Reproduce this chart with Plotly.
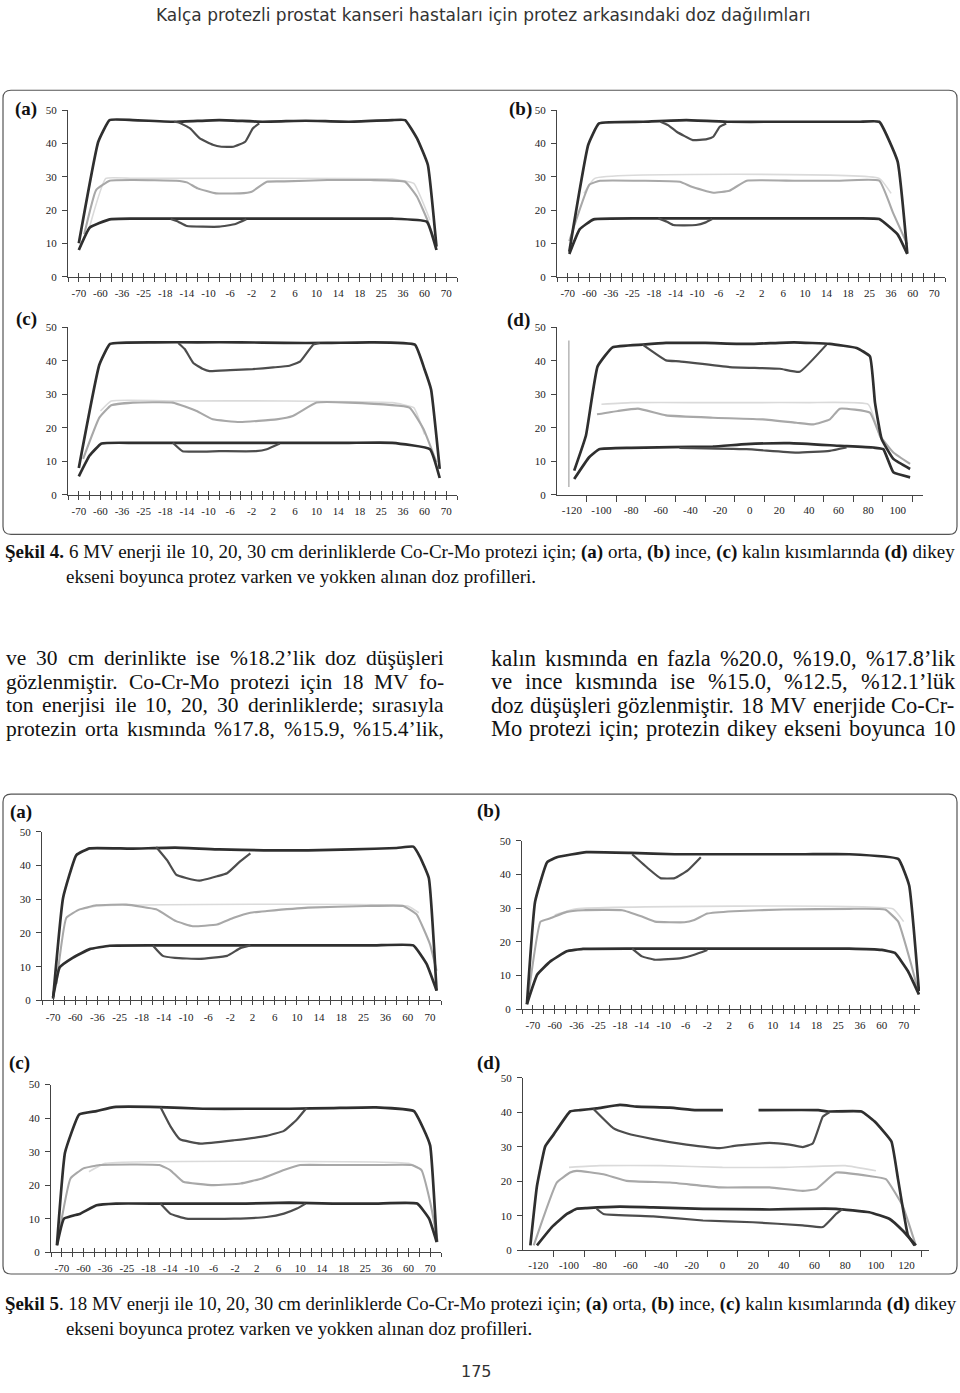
import plotly.graph_objects as go

W, H = 960, 1393

# ---------------- tick labels ----------------
POS_LABELS = ["-70", "-60", "-36", "-25", "-18", "-14", "-10", "-6", "-2",
              "2", "6", "10", "14", "18", "25", "36", "60", "70"]
POS_LABEL_IDX = list(range(1, 36, 2))
POS_ALL_IDX = list(range(0, 37))
D4_LABELS = [-120, -100, -80, -60, -40, -20, 0, 20, 40, 60, 80, 100]
D5_LABELS = [-120, -100, -80, -60, -40, -20, 0, 20, 40, 60, 80, 100, 120]
Y_TICKS = [0, 10, 20, 30, 40, 50]

# ---------------- Şekil 4 (6 MV) ----------------
# (a) orta
F4A_10Y_X = [1, 2.8, 3.85, 6, 10, 14, 18, 22, 26, 30, 31.2, 32.3, 33.3, 34.1]
F4A_10Y_Y = [10, 40.5, 47, 47, 46.5, 47, 46.5, 46.8, 46.5, 47, 47, 41.5, 33.6, 9]
F4A_10V_X = [9.8, 10.3, 11.3, 12.2, 13.4, 14.2, 15.3, 16.4, 17.1, 17.7]
F4A_10V_Y = [46.5, 46.2, 44.5, 41.5, 39.6, 39, 39, 40.5, 44.5, 46]
F4A_20Y_X = [2, 3.5, 6, 30, 32, 33.5]
F4A_20Y_Y = [15, 29.5, 29.5, 29.3, 28, 17]
F4A_20V_X = [1.5, 2.6, 3.85, 6, 10, 11, 12, 13.7, 15.9, 17, 18.4, 20, 24, 28, 31.2, 32.3, 33.3, 34]
F4A_20V_Y = [12.7, 26, 28.8, 29, 28.8, 28.3, 26.5, 25, 25, 25.5, 28.5, 28.6, 29, 29, 28.5, 24, 16.7, 10]
F4A_30Y_X = [1, 2, 3.85, 6, 10, 14, 18, 22, 26, 30, 33.2, 34.1]
F4A_30Y_Y = [8, 14.7, 17.2, 17.4, 17.4, 17.4, 17.4, 17.4, 17.4, 17.4, 16.5, 8]
F4A_30V_X = [9.5, 10.2, 11, 14, 15.5, 16.5]
F4A_30V_Y = [17.3, 16.5, 15.2, 15, 15.8, 17.2]

# (b) ince
F4B_10Y_X = [1.14, 2.9, 3.9, 8, 12, 16, 20, 24, 28, 29.9, 31.6, 32.5]
F4B_10Y_Y = [7.5, 39.6, 46, 46.5, 47, 46.5, 46.5, 46.5, 46.5, 46.5, 34.6, 7]
F4B_10V_X = [9.6, 10.3, 11.1, 12.6, 13.9, 14.5, 15.1, 15.7]
F4B_10V_Y = [46.5, 45.5, 43.5, 41, 41.3, 42, 45, 46]
F4B_20Y_X = [2.5, 3.5, 29.9, 31]
F4B_20Y_Y = [25, 29.5, 29.5, 25]
F4B_20V_X = [1.14, 3, 4, 8, 11.4, 12.5, 14.5, 16, 17.6, 22, 26, 29.9, 31.2, 32.5]
F4B_20V_Y = [10.7, 27.6, 28.8, 28.8, 28.5, 27, 25.2, 25.8, 28.8, 28.8, 28.8, 28.8, 19, 9.7]
F4B_30Y_X = [1.14, 2.1, 3.4, 8, 12, 16, 20, 24, 28, 29.9, 31.6, 32.5]
F4B_30Y_Y = [6.8, 14.2, 17.2, 17.5, 17.5, 17.5, 17.5, 17.5, 17.5, 17.3, 12.7, 6.8]
F4B_30V_X = [9.4, 10.2, 10.8, 12.9, 13.8, 14.4]
F4B_30V_Y = [17.5, 16.5, 15.5, 15.5, 16.3, 17.3]

# (c) kalın
F4C_10Y_X = [1, 2.9, 3.9, 8, 12, 16, 20, 24, 28, 32.1, 33, 33.6, 34.4]
F4C_10Y_Y = [8, 38.8, 45, 45.5, 45.5, 45.5, 45.3, 45.3, 45.5, 44.8, 37.4, 31.4, 7.7]
F4C_10V_X = [10.2, 10.8, 11.6, 12.5, 13.1, 15, 17.1, 19, 20.5, 21.5, 22.7, 23.3]
F4C_10V_Y = [45.3, 43.5, 39.3, 37.5, 36.9, 37.2, 37.5, 38, 38.5, 39.8, 44.8, 45.3]
F4C_20Y_X = [3, 4, 10, 20, 30, 32, 33]
F4C_20Y_Y = [25, 28, 28, 28, 27.5, 26, 18]
F4C_20V_X = [1.4, 2.9, 4, 6, 9.7, 11.9, 13.4, 15.9, 19.3, 20.8, 23, 26, 31.6, 32.9, 34.1]
F4C_20V_Y = [10.7, 23, 26.7, 27.5, 27.5, 25, 22.5, 21.7, 22.5, 23.5, 27.5, 27.5, 26, 19.6, 9.7]
F4C_30Y_X = [1, 2, 3.1, 6, 10, 14, 18, 22, 26, 30, 33.5, 34.4]
F4C_30Y_Y = [5.5, 11.7, 15.3, 15.5, 15.5, 15.5, 15.5, 15.5, 15.5, 15.5, 13.6, 5]
F4C_30V_X = [9.7, 10.6, 14, 17.4, 18.4, 19.6]
F4C_30V_Y = [15.5, 13, 13, 13, 13.6, 15.3]

# (d) dikey eksen (cm)
F4D_10Y_X = [-118.4, -110.5, -102.6, -92.5, -72.2, -56.4, -30, 0, 30, 54.1, 72.2, 81.2, 84.6, 89.1, 97, 108.3]
F4D_10Y_Y = [7.2, 17.6, 38.3, 44, 44.8, 45.3, 45.3, 45, 45.5, 45, 43.8, 41.3, 27.5, 16.6, 10.7, 7.7]
F4D_10V_X = [-72.2, -56.4, -47.4, -13.5, 20.3, 33.8, 51.9]
F4D_10V_Y = [44.8, 40.1, 39.8, 38.1, 37.6, 36.7, 44.8]
F4D_20Y_X = [-100, -80, -40, 0, 40, 80, 88]
F4D_20Y_Y = [27, 27.5, 27.5, 27.5, 27.5, 27, 17]
F4D_20V_X = [-103, -88.9, -75.4, -56.4, -24.8, 9, 31.6, 42.9, 54.1, 60.9, 81.2, 88, 97, 108.3]
F4D_20V_Y = [24, 25, 25.7, 23.7, 23, 22.5, 21.5, 21, 22.5, 25.7, 24.5, 17.6, 12.6, 9.2]
F4D_30Y_X = [-118.4, -108.3, -101.5, -80, -24.8, -2.3, 27, 61, 83.5, 90.2, 97, 108.3]
F4D_30Y_Y = [4.7, 11.2, 13.6, 14, 14.4, 15.1, 15.4, 14.6, 14.1, 13.6, 6.7, 5.2]
F4D_30V_X = [-47.4, -2.3, 31.6, 54, 65.4]
F4D_30V_Y = [14, 13.6, 12.6, 13.1, 14.1]

# ---------------- Şekil 5 (18 MV) ----------------
F5A_10Y_X = [1, 1.9, 3.1, 4.3, 8, 12, 16, 20, 24, 28, 32, 33.5, 34.1, 34.9, 35.6]
F5A_10Y_Y = [0.5, 30.4, 43.1, 45.1, 45, 45.3, 44.8, 44.5, 44.5, 44.8, 45.2, 45.6, 42.6, 36.3, 2.9]
F5A_10V_X = [10.3, 11.3, 12.1, 13, 14.2, 15.8, 16.7, 17.8, 18.8]
F5A_10V_Y = [45.5, 41.5, 37.3, 36.3, 35.5, 36.8, 37.7, 41, 43.6]
F5A_20Y_X = [3.5, 5, 33, 34]
F5A_20Y_Y = [27, 28, 28, 26]
F5A_20V_X = [1.3, 2.2, 3.4, 4.9, 7.6, 10.3, 12.1, 13.6, 15.8, 17.3, 18.8, 20.3, 24, 29.3, 32.6, 33.8, 35, 35.6]
F5A_20V_Y = [4.9, 24.5, 27, 28.2, 28.4, 27, 23.5, 22, 22.5, 24.5, 26, 26.5, 27.5, 28, 28, 25.5, 16.7, 8.8]
F5A_30Y_X = [1, 1.6, 2.8, 4.3, 6.1, 10, 14, 18, 22, 26, 30, 33.5, 34.7, 35.6]
F5A_30Y_Y = [1, 9.8, 12.7, 15.2, 16.2, 16.3, 16.3, 16.3, 16.3, 16.3, 16.3, 16.3, 10.8, 2.9]
F5A_30V_X = [10, 10.9, 12, 14.2, 16.7, 17.9, 18.8]
F5A_30V_Y = [16.3, 13.2, 12.6, 12.3, 13.2, 15.5, 16.3]

F5B_10Y_X = [0.45, 1.2, 2.3, 3.2, 5.9, 10, 14, 18, 22, 26, 30, 34.5, 35.5, 36.4]
F5B_10Y_Y = [1.5, 31.9, 43.6, 45.1, 46.6, 46.4, 46, 46, 46, 46, 46, 44.6, 36.8, 5.4]
F5B_10V_X = [10.1, 11.6, 12.7, 14, 15.2, 16.4]
F5B_10V_Y = [46, 41.7, 38.9, 38.9, 41.2, 45.1]
F5B_20Y_X = [3, 5, 34, 35]
F5B_20Y_Y = [28, 29.8, 29.8, 26]
F5B_20V_X = [0.6, 1.7, 2.6, 4.1, 5.6, 9.2, 11, 12.2, 14.9, 15.8, 17, 19.4, 24, 30, 33.3, 34.5, 35.7, 36.4]
F5B_20V_Y = [4.4, 26, 27, 28.9, 29.4, 29.4, 27.5, 26, 25.8, 26.5, 28.4, 29.1, 29.6, 29.8, 29.6, 26, 13.2, 4.4]
F5B_30Y_X = [0.45, 1.4, 2.6, 4.1, 5.6, 10, 14, 18, 22, 26, 30, 33, 34.2, 35.4, 36.4]
F5B_30Y_Y = [1.5, 10.3, 14.2, 17.2, 17.9, 18, 18, 18, 18, 18, 18, 17.6, 16.7, 11.3, 4.4]
F5B_30V_X = [10.1, 11, 12.2, 14.6, 15.8, 17]
F5B_30V_Y = [18, 15.7, 14.7, 15.2, 16.2, 17.6]

F5C_10Y_X = [0.55, 1.3, 2.6, 4.2, 5.8, 10, 14, 18, 22, 26, 30, 33.5, 34.4, 35, 35.6]
F5C_10Y_Y = [2.2, 29.8, 41.1, 42.1, 43.3, 43.3, 42.8, 42.8, 42.8, 43, 43.2, 42.1, 36.7, 31.8, 3.2]
F5C_10V_X = [10.1, 11, 11.9, 13.8, 16.9, 19.9, 21.5, 22.7, 23.6]
F5C_10V_Y = [43.3, 37.7, 33.7, 32.4, 33.4, 34.7, 36.2, 39.6, 43.1]
F5C_20Y_X = [3.5, 5, 33, 34]
F5C_20Y_Y = [24, 26.5, 26.5, 25]
F5C_20V_X = [0.6, 1.8, 3, 4.5, 10, 11, 12.2, 15, 17.5, 19.5, 21.5, 23, 26, 30, 33.3, 34.2, 35, 35.7]
F5C_20V_Y = [3, 22, 25, 26, 26, 24.5, 21, 20, 20.5, 22, 24.5, 26, 26, 26, 26, 24.5, 15, 3]
F5C_30Y_X = [0.55, 1.2, 2.7, 4.2, 6, 10, 14, 18, 22, 26, 30, 33.8, 34.9, 35.6]
F5C_30Y_Y = [2, 10, 11.5, 14, 14.5, 14.5, 14.5, 14.5, 14.8, 14.5, 14.5, 14.5, 10, 3]
F5C_30V_X = [10.1, 11, 12.5, 16.9, 19.9, 21.5, 22.7, 23.5]
F5C_30V_Y = [14.5, 11.5, 10, 10, 10.5, 11.5, 13, 14.5]

F5D_10Y_X = [-125.2, -120.9, -115.5, -110.1, -99.3, -92.8, -82, -66.8, -56, -34.3, -17, 0.3, None,
             23.5, 62.4, 68.9, 90.6, 99.2, 110.1, 114.4, 120.9, 125.2]
F5D_10Y_Y = [1.4, 18.6, 30.1, 33.5, 40.2, 40.6, 41.1, 42.1, 41.6, 41.3, 40.6, 40.6, None,
             40.6, 40.6, 40.2, 40.2, 37.3, 31.5, 20.6, 4.3, 1.4]
F5D_10V_X = [-84.2, -71.2, -62.5, -45.2, -23.5, -1.8, 9, 30.7, 43.7, 52.3, 58.8, 65.4, 69.7]
F5D_10V_Y = [41, 35.4, 33.9, 32.2, 30.6, 29.6, 30.3, 31.1, 30.6, 29.9, 30.9, 38.7, 40]
F5D_20Y_X = [-100, -80, -40, 0, 40, 80, 100]
F5D_20Y_Y = [24, 24.5, 24.5, 24, 24, 24.5, 23]
F5D_20V_X = [-123, -108, -99.3, -95, -77.6, -62.5, -34.3, -1.8, 30.7, 52.3, 61, 74, 95.7, 106.5, 117.4, 126]
F5D_20V_Y = [1.4, 19.6, 22.5, 23, 22, 20.1, 19.6, 18.2, 18.2, 17.2, 17.7, 22.5, 21.5, 20.6, 12.9, 1.4]
F5D_30Y_X = [-120.9, -111.2, -101.4, -95, -88.5, -66.8, -45.2, -12.7, 30.7, 52.3, 74, 95.7, 108.7, 117.4, 126]
F5D_30Y_Y = [1.4, 6.7, 10.5, 12, 12.2, 12.6, 12.4, 12, 11.8, 12, 12, 11, 9.1, 5.7, 1.4]
F5D_30V_X = [-82, -77.6, -45.2, -12.7, 19.8, 52.3, 65.4, 74, 78.3]
F5D_30V_Y = [12, 10.5, 9.8, 8.6, 8.1, 7.2, 6.7, 10.5, 12]

# ---------------- text ----------------
HEADER = "Kalça protezli prostat kanseri hastaları için protez arkasındaki doz dağılımları"
CAP4 = ["<b>Şekil 4.</b> 6 MV enerji ile 10, 20, 30 cm derinliklerde Co-Cr-Mo protezi için; "
        "<b>(a)</b> orta, <b>(b)</b> ince, <b>(c)</b> kalın kısımlarında <b>(d)</b> dikey",
        "ekseni boyunca protez varken ve yokken alınan doz profilleri."]
CAP5 = ["<b>Şekil 5</b>. 18 MV enerji ile 10, 20, 30 cm derinliklerde Co-Cr-Mo protezi için; "
        "<b>(a)</b> orta, <b>(b)</b> ince, <b>(c)</b> kalın kısımlarında <b>(d)</b> dikey",
        "ekseni boyunca protez varken ve yokken alınan doz profilleri."]
BODY_LEFT = ["ve 30 cm derinlikte ise %18.2’lik doz düşüşleri",
             "gözlenmiştir. Co-Cr-Mo protezi için 18 MV fo-",
             "ton enerjisi ile 10, 20, 30 derinliklerde; sırasıyla",
             "protezin orta kısmında %17.8, %15.9, %15.4’lik,"]
BODY_RIGHT = ["kalın kısmında en fazla %20.0, %19.0, %17.8’lik",
              "ve ince kısmında ise %15.0, %12.5, %12.1’lük",
              "doz düşüşleri gözlenmiştir. 18 MV enerjide Co-Cr-",
              "Mo protezi için; protezin dikey ekseni boyunca 10"]
PAGE_NO = "175"

# Times (Liberation Serif) advance widths, 1/1000 em, for justifying text
TIMES_W = {" ": 250, "a": 444, "b": 500, "c": 444, "d": 500, "e": 444, "f": 333, "g": 500,
           "h": 500, "i": 278, "j": 278, "k": 500, "l": 278, "m": 778, "n": 500, "o": 500,
           "p": 500, "q": 500, "r": 333, "s": 389, "t": 278, "u": 500, "v": 500, "w": 722,
           "x": 500, "y": 500, "z": 444, "ı": 278, "ş": 389, "ğ": 500, "ü": 500, "ö": 500,
           "ç": 444, "C": 667, "M": 889, "V": 722, "%": 833, ".": 250, ",": 250, ";": 278,
           "-": 333, "’": 333}


def px_x(v):
    return v / W


def px_y(v):
    return 1 - v / H


STYLE = {
    "20Y": dict(color="#dadada", width=1.6),
    "20V": dict(color="#a8a8a8", width=2.1),
    "30Y": dict(color="#2f2f2f", width=2.7),
    "30V": dict(color="#4d4d4d", width=2.2),
    "10Y": dict(color="#2f2f2f", width=2.7),
    "10V": dict(color="#4d4d4d", width=2.2),
}
NAMES = {"10Y": "10 cm, protez yok", "10V": "10 cm, protez var",
         "20Y": "20 cm, protez yok", "20V": "20 cm, protez var",
         "30Y": "30 cm, protez yok", "30V": "30 cm, protez var"}

g = globals()
PANELS = [
    ("F4A", "(a)", 68, 457, 105, 273, "pos", [0, 36], (13, 104)),
    ("F4B", "(b)", 557, 945, 105, 273, "pos", [0, 36], (507, 104)),
    ("F4C", "(c)", 68, 457, 324, 493, "pos", [0, 36], (14, 316)),
    ("F4D", "(d)", 557, 923, 324, 493, "d4", [-130, 117], (505, 317)),
    ("F5A", "(a)", 42, 441, 833, 1003, "pos", [0, 36], (8, 813)),
    ("F5B", "(b)", 522, 920, 842, 1012, "pos", [0, 36.5], (475, 812)),
    ("F5C", "(c)", 51, 441, 1088, 1257, "pos", [0, 36], (7, 1066)),
    ("F5D", "(d)", 523, 929, 1081, 1255, "d5", [-130, 134.6], (475, 1066)),
]

fig = go.Figure()
layout = dict(width=W, height=H, margin=dict(l=0, r=0, t=0, b=0),
              paper_bgcolor="white", plot_bgcolor="white", showlegend=False)
annotations = []
shapes = []
TICKFONT = dict(family="Liberation Serif", size=11, color="#222")
AX = "#444"

extra = 9
for k, (pre, lab, x0, x1, yt, yb, kind, xr, lpos) in enumerate(PANELS):
    n = "" if k == 0 else str(k + 1)
    for key in ["20Y", "20V", "30Y", "30V", "10Y", "10V"]:
        xs = g[f"{pre}_{key}_X"]
        ys = g[f"{pre}_{key}_Y"]
        fig.add_trace(go.Scatter(x=xs, y=ys, mode="lines", name=NAMES[key],
                                 line=dict(shape="spline", smoothing=0.35, **STYLE[key]),
                                 xaxis="x" + n, yaxis="y" + n, hoverinfo="skip"))
    xa = dict(domain=[px_x(x0), px_x(x1)], anchor="y" + n, range=xr,
              showgrid=False, zeroline=False, showline=True, linecolor=AX, linewidth=1,
              tickfont=TICKFONT, fixedrange=True)
    if kind == "pos":
        xa.update(tickmode="array", tickvals=POS_LABEL_IDX, ticktext=POS_LABELS,
                  ticks="outside", ticklen=4, tickcolor=AX, ticklabelstandoff=2,
                  minor=dict(tickmode="array", tickvals=POS_ALL_IDX, ticks="outside",
                             ticklen=4, tickcolor=AX))
        # overlay axis carrying the upper half of the crossing tick marks
        layout["xaxis" + str(extra)] = dict(
            overlaying="x" + n, anchor="y" + n, range=xr, side="bottom",
            tickmode="array", tickvals=POS_ALL_IDX, ticks="inside", ticklen=4,
            tickcolor=AX, showticklabels=False, showline=False, showgrid=False,
            zeroline=False, fixedrange=True)
        fig.add_trace(go.Scatter(x=[None], y=[None], mode="lines", xaxis="x" + str(extra),
                                 yaxis="y" + n, hoverinfo="skip", showlegend=False))
        extra += 1
    else:
        labs = D4_LABELS if kind == "d4" else D5_LABELS
        mids = [v + 10 for v in labs]
        xa.update(tickmode="array", tickvals=labs, ticktext=[str(v) for v in labs],
                  ticks="", ticklabelstandoff=5,
                  minor=dict(tickmode="array", tickvals=mids, ticks="outside",
                             ticklen=6, tickcolor=AX))
    ya = dict(domain=[px_y(yb), px_y(yt)], anchor="x" + n, range=[0, 50],
              tickmode="array", tickvals=Y_TICKS, ticks="outside", ticklen=5,
              tickcolor=AX, showgrid=False, zeroline=False, showline=True,
              linecolor=AX, linewidth=1, tickfont=TICKFONT, fixedrange=True,
              ticklabelstandoff=3)
    layout["xaxis" + n] = xa
    layout["yaxis" + n] = ya
    annotations.append(dict(text=f"<b>{lab}</b>", x=px_x(lpos[0]), y=px_y(lpos[1]),
                            xref="paper", yref="paper", xanchor="left", yanchor="middle",
                            showarrow=False,
                            font=dict(family="Liberation Serif", size=19, color="#111")))

# artefact line in Şekil 4 (d)
shapes.append(dict(type="line", xref="x4", yref="y4", x0=-122, x1=-122, y0=2.3, y1=46,
                   line=dict(color="#b5b5b5", width=1.5)))


def rounded_box(x0, y0, x1, y1, r=8):
    X = lambda v: f"{px_x(v):.5f}"
    Y = lambda v: f"{px_y(v):.5f}"
    return (f"M {X(x0 + r)},{Y(y0)} L {X(x1 - r)},{Y(y0)} Q {X(x1)},{Y(y0)} {X(x1)},{Y(y0 + r)} "
            f"L {X(x1)},{Y(y1 - r)} Q {X(x1)},{Y(y1)} {X(x1 - r)},{Y(y1)} "
            f"L {X(x0 + r)},{Y(y1)} Q {X(x0)},{Y(y1)} {X(x0)},{Y(y1 - r)} "
            f"L {X(x0)},{Y(y0 + r)} Q {X(x0)},{Y(y0)} {X(x0 + r)},{Y(y0)} Z")


for (bx0, by0, bx1, by1) in [(3, 85, 957, 533), (3, 795, 957, 1279)]:
    shapes.append(dict(type="path", xref="paper", yref="paper", path=rounded_box(bx0, by0, bx1, by1),
                       line=dict(color="#555", width=1.2), fillcolor="rgba(0,0,0,0)"))

SERIF = "Liberation Serif"


def text(t, x, y, size, family=SERIF, anchor="left", color="#111"):
    annotations.append(dict(text=t, x=px_x(x), y=px_y(y), xref="paper", yref="paper",
                            xanchor=anchor, yanchor="middle", showarrow=False, borderpad=0,
                            font=dict(family=family, size=size, color=color)))


def justified(line, xl, xr, y, size):
    words = line.split(" ")
    widths = [sum(TIMES_W.get(c, 500) for c in w) * size / 1000 for w in words]
    gap = (xr - xl - sum(widths)) / max(len(words) - 1, 1)
    x = xl
    for w, wd in zip(words, widths):
        text(w, x, y, size)
        x += wd + gap


text(HEADER, 483, 9, 17, family="DejaVu Sans", anchor="center", color="#333")
text(CAP4[0], 4, 551, 19)
text(CAP4[1], 65, 575, 19)
for i, line in enumerate(BODY_LEFT):
    justified(line, 5, 443, 658 + i * 23.6, 21.5)
for i, line in enumerate(BODY_RIGHT):
    justified(line, 490, 954, 658 + i * 23.6, 22.5)
text(CAP5[0], 4, 1309, 18.85)
text(CAP5[1], 65, 1334, 18.85)
text(PAGE_NO, 476, 1377, 16, family="DejaVu Sans", anchor="center", color="#333")

layout["annotations"] = annotations
layout["shapes"] = shapes
fig.update_layout(**layout)
fig.write_html("out.html", config={"displayModeBar": False},
               post_script="document.body.style.margin='0';document.body.style.overflow='hidden';")
